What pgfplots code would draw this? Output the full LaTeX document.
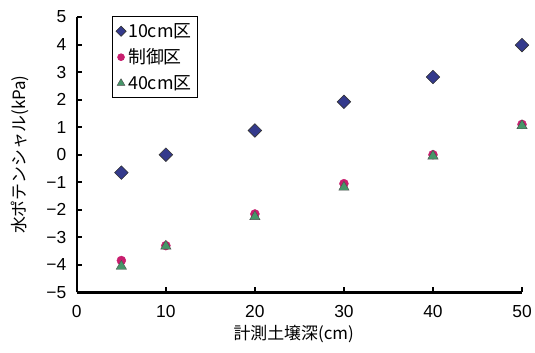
\documentclass[border=0pt]{standalone}
\usepackage{pgfplots}
\pgfplotsset{compat=1.18}
\usepackage{fontspec}
\setmainfont{Liberation Sans}
\newfontfamily\cjk{Noto Sans CJK JP}
\definecolor{cBlue}{RGB}{52,58,140}
\definecolor{cMag}{RGB}{200,30,110}
\definecolor{cGreen}{RGB}{70,150,105}
\begin{document}
\begin{tikzpicture}
\begin{axis}[
  scale only axis, width=446bp, height=276bp,
  xmin=0, xmax=50, ymin=-5, ymax=5,
  xtick={0,10,20,30,40,50}, ytick={-5,-4,...,5},
  yticklabels={−5,−4,−3,−2,−1,0,1,2,3,4,5},
  axis x line=bottom, axis y line=left,
  axis line style={line width=2.2pt,-},
  tick style={line width=2pt,black},
  major tick length=5bp, tick align=inside,
  clip=false,
  /pgf/number format/assume math mode=true,
  ticklabel style={font=\fontsize{17.5}{19}\selectfont},
  xticklabel style={yshift=-9bp},
  yticklabel style={xshift=-7bp},
  xlabel={\cjk 計測土壌深(cm)},
  ylabel={\cjk 水ポテンシャル(kPa)},
  every axis x label/.style={at={(rel axis cs:0.487,-0.152)},anchor=center,font=\fontsize{17}{19}\selectfont},
  every axis y label/.style={at={(rel axis cs:-0.128,0.5)},rotate=90,anchor=center,font=\fontsize{17}{19}\selectfont},
  legend style={at={(rel axis cs:0.078,1.003)},anchor=north west,draw=black,line width=0.8pt,
    font=\cjk\fontsize{18}{20}\selectfont,row sep=6bp,inner xsep=4bp,inner ysep=5bp},
  legend image post style={scale=0.75},
  legend cell align=left,
]
\path[draw=none] (rel axis cs:-0.1726,-0.2174) rectangle (rel axis cs:1.0269,1.0616);
\addplot[only marks, mark=square*, mark size=4.8bp, mark options={rotate=45,fill=cBlue,draw=black!80,line width=0.6pt}]
 coordinates {(5,-0.65) (10,0) (20,0.88) (30,1.92) (40,2.82) (50,3.98)};
\addlegendentry{10cm区}
\addplot[only marks, mark=*, mark size=4.5bp, mark options={fill=cMag,draw=cMag}]
 coordinates {(5,-3.84) (10,-3.3) (20,-2.15) (30,-1.05) (40,0.0) (50,1.1)};
\addlegendentry{制御区}
\addplot[only marks, mark=triangle*, mark size=6bp, mark options={fill=cGreen,draw=black!70,line width=0.4pt}]
 coordinates {(5,-4.05) (10,-3.32) (20,-2.25) (30,-1.18) (40,-0.05) (50,1.05)};
\addlegendentry{40cm区}
\end{axis}
\end{tikzpicture}
\end{document}
